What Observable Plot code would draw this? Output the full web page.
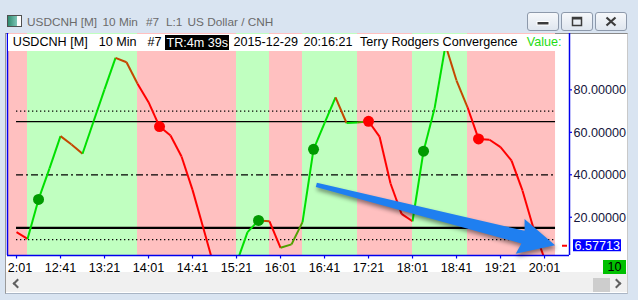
<!DOCTYPE html>
<html><head><meta charset="utf-8">
<script src="https://cdn.jsdelivr.net/npm/d3@7"></script>
<script src="https://cdn.jsdelivr.net/npm/@observablehq/plot@0.6"></script>
<style>
html,body{margin:0;padding:0;}
body{width:638px;height:300px;position:relative;overflow:hidden;background:#d9e4f1;font-family:"Liberation Sans",Arial,sans-serif;}
.abs{position:absolute;}
#frame{left:5px;top:33px;width:621px;height:259px;background:#fff;border-left:1px solid #9a9a9a;border-top:1px solid #8a8a8a;border-right:1px solid #c9c9c9;border-bottom:1px solid #a9b5c5;z-index:0;}
#scroll{left:6px;top:272px;width:621px;height:20px;background:#f0f0f0;z-index:0;}
#chart{left:0;top:0;z-index:1;}
#header{left:8px;top:34px;width:560px;height:17px;background:#fff;overflow:hidden;white-space:nowrap;font-size:12.6px;z-index:2;}
#header span{position:absolute;top:1px;line-height:15px;color:#000;}
#title span{position:absolute;top:15px;line-height:14px;font-size:11.8px;color:#6b6b6b;white-space:nowrap;}
.btn{top:12px;height:17px;width:30px;border:1px solid #8d99ab;border-radius:3px;background:linear-gradient(#f6f8fb,#dfe6ef);z-index:2;}
#cover{left:0;top:257px;width:5px;height:15px;background:#d9e4f1;border-right:1px solid #9a9a9a;z-index:3;}
#cover2{left:6px;top:257px;width:2px;height:15px;background:#fff;z-index:3;}
#bars{left:603px;top:260px;width:23px;height:14px;background:#00c000;color:#000;font-size:12.6px;line-height:14px;text-align:center;z-index:3;}
.chev{width:5px;height:5px;border-left:2px solid #606060;border-bottom:2px solid #606060;z-index:3;}
</style>
</head><body>
<div id="frame" class="abs"></div>
<div id="scroll" class="abs"></div>
<div class="abs" style="left:593px;top:278px;width:17px;height:14px;background:#cdcdcd;z-index:1"></div>
<div class="abs chev" style="left:14px;top:280px;transform:rotate(45deg)"></div>
<div class="abs chev" style="left:613px;top:280px;transform:rotate(-135deg)"></div>

<div id="title">
  <div class="abs" style="left:7px;top:15px;width:13px;height:10px;border:1px solid #505050;background:linear-gradient(90deg,#2e8a6e,#7fc6b8 70%,#fff 70%);"></div>
  <span style="left:27px">USDCNH [M]</span>
  <span style="left:102.5px">10 Min</span>
  <span style="left:146px">#7</span>
  <span style="left:166px">L:1</span>
  <span style="left:187.5px">US Dollar / CNH</span>
</div>
<div class="abs btn" style="left:527px"><svg width="30" height="17"><rect x="9" y="8.5" width="12" height="3.5" fill="#3c3c3c" stroke="#fff" stroke-width="1"/></svg></div>
<div class="abs btn" style="left:561px"><svg width="30" height="17"><rect x="10.5" y="4.5" width="9" height="8" fill="none" stroke="#3c3c3c" stroke-width="1.5"/><rect x="10.5" y="4.5" width="9" height="2" fill="#3c3c3c"/></svg></div>
<div class="abs btn" style="left:595px"><svg width="30" height="17"><path d="M10.5 4.5L19.5 12.5M19.5 4.5L10.5 12.5" stroke="#3c3c3c" stroke-width="2.2"/></svg></div>

<div id="chart" class="abs"></div>
<div id="header" class="abs">
  <span style="left:4.8px">USDCNH [M]</span>
  <span style="left:90.8px">10 Min</span>
  <span style="left:139.5px">#7</span>
  <span style="left:157px;top:0.7px;width:64px;height:15.3px;background:#000;color:#fff;padding-left:1.5px;box-sizing:border-box;line-height:16px">TR:4m 39s</span>
  <span style="left:225.5px">2015-12-29</span>
  <span style="left:295.5px">20:16:21</span>
  <span style="left:352px">Terry Rodgers Convergence</span>
  <span style="left:518.8px;color:#1fdc14">Value:</span>
</div>
<div id="cover" class="abs"></div>
<div id="cover2" class="abs"></div>
<div id="bars" class="abs">10</div>

<script>
// ---- data ----
const bandStart = [-1, 1, 11, 20, 23, 26, 31, 36, 41];
const bandEnd   = [1, 11, 20, 23, 26, 31, 36, 41, 49];
const bandZone  = ["down", "up", "down", "up", "down", "up", "down", "up", "down"];
// completed bars (index 0 = 12:01, one bar per 10 minutes)
const values = [13.0, 9.8, 28.4, 43.0, 58.2, 54.3, 49.9, 65.1, 80.2, 95.1,
                93.0, 82.9, 74.2, 62.7, 58.5, 48.6, 32.9, 14.6, -4, -6,
                -1.6, 13.0, 18.5, 18.1, 5.6, 7.2, 17.7, 52.0, 64.3, 76.5,
                64.4, 64.6, 65.2, 58.0, 35.9, 21.6, 18.1, 51.1, 71.2, 101,
                84.4, 71.8, 56.9, 56.5, 53.0, 46.7, 32.5, 14.7, 0.5];
const buySignals  = [2, 22, 27, 37];
const sellSignals = [13, 32, 42];
const levelValues = [70, 65, 40, 15, 9.5];
const levelStyles = ["dotted", "thin", "dashdot", "thick", "dotted"];
const xTickLabels = ["12:01","12:41","13:21","14:01","14:41","15:21","16:01","16:41","17:21","18:01","18:41","19:21","20:01"];
const yTickValues = [20, 40, 60, 80];
const lastValue = 6.57713;          // current (open) bar value
const arrowTail = [27.3, 35];
const arrowTip  = [49, 6.57713];

// ---- scales ----
const xDomain = [-0.82, 50.27], xRange = [7, 569];
const yDomain = [1.98, 106.55], yRange = [255, 33];
const kpp = (xDomain[1] - xDomain[0]) / (xRange[1] - xRange[0]);
const vpp = (yDomain[1] - yDomain[0]) / (yRange[0] - yRange[1]);

const zoneFill = {up: "#c0ffc0", down: "#ffc0c0"};
const bands = bandStart.map((s, i) => ({start: s, end: bandEnd[i], zone: bandZone[i]}));
const zoneAt = k => bands.find(b => k >= b.start && k < b.end)?.zone ?? "down";
const segs = d3.range(values.length - 1).map(i => {
  const zone = zoneAt(i + 0.5), rise = values[i + 1] >= values[i];
  const color = zone === "up" ? (rise ? "#00e000" : "#c44800") : (rise ? "#50a000" : "#ff0000");
  return {i, v0: values[i], v1: values[i + 1], color};
});
const styleMap = {
  dotted: {strokeWidth: 1.2, strokeDasharray: "1.3,2.7"},
  thin: {strokeWidth: 1.3},
  dashdot: {strokeWidth: 1.2, strokeDasharray: "7,3,2,3"},
  thick: {strokeWidth: 2.4}
};
const levelMarks = levelValues.map((v, i) =>
  Plot.ruleY([v], {x1: 0, x2: 49, stroke: "#000", ...styleMap[levelStyles[i]]}));
const xTickIdx = xTickLabels.map((_, i) => i * 4);

const chart = Plot.plot({
  width: 638, height: 300,
  marginLeft: 7, marginRight: 69, marginTop: 33, marginBottom: 45,
  x: {domain: xDomain, range: xRange, axis: null},
  y: {domain: yDomain, range: yRange, axis: null},
  color: {type: "identity"},
  style: {background: "transparent", fontFamily: '"Liberation Sans", Arial, sans-serif', fontSize: "12.6px", overflow: "visible"},
  marks: [
    Plot.rect(bands, {x1: "start", x2: "end", y1: yDomain[0], y2: yDomain[1], fill: d => zoneFill[d.zone], clip: true}),
    ...levelMarks,
    Plot.link(segs, {x1: "i", y1: "v0", x2: d => d.i + 1, y2: "v1", stroke: "color", strokeWidth: 2, clip: true}),
    Plot.dot(buySignals, {x: d => d, y: d => values[d], r: 5.5, fill: "#009a00", clip: true}),
    Plot.dot(sellSignals, {x: d => d, y: d => values[d], r: 5.5, fill: "#ff0000", clip: true}),
    Plot.ruleX([xDomain[0], xDomain[1]], {y1: yDomain[0], y2: yDomain[1], stroke: "#0000ee", strokeWidth: 1.5}),
    Plot.ruleY([yDomain[0]], {x1: xDomain[0], x2: xDomain[1], stroke: "#0000ee", strokeWidth: 1.5}),
    Plot.ruleX(xTickIdx, {x: d => d, y1: yDomain[0], y2: yDomain[0] - 3.5 * vpp, stroke: "#0000ee", strokeWidth: 1.2}),
    Plot.text(xTickIdx, {x: d => d, y: yDomain[0], dy: 12.2, text: (d, i) => xTickLabels[i], fill: "#000", fontSize: 12.6}),
    Plot.ruleY(yTickValues, {y: d => d, x1: xDomain[1], x2: xDomain[1] + 3 * kpp, stroke: "#0000ee", strokeWidth: 1.2}),
    Plot.text(yTickValues, {x: xDomain[1], y: d => d, dx: 4, dy: 0.5, text: d => d.toFixed(5), textAnchor: "start", fill: "#14143c", fontSize: 12.6}),
    Plot.ruleY([lastValue], {x1: xDomain[1] - 7 * kpp, x2: xDomain[1] - 2 * kpp, stroke: "#ff0000", strokeWidth: 2}),
    Plot.rect([lastValue], {x1: xDomain[1] + 4 * kpp, x2: xDomain[1] + 52 * kpp, y1: d => d - 6 * vpp, y2: d => d + 6 * vpp, fill: "#0000ff"}),
    Plot.text([lastValue], {x: xDomain[1], y: d => d, dx: 5, dy: 0.5, text: d => d.toFixed(5), textAnchor: "start", fill: "#fff", fontSize: 12.6})
  ]
});
document.getElementById("chart").appendChild(chart);

// annotation arrow, positioned through the plot's scales
const sx = chart.scale("x"), sy = chart.scale("y");
const fx = sx.apply ? v => sx.apply(v) : d3.scaleLinear(sx.domain, sx.range);
const fy = sy.apply ? v => sy.apply(v) : d3.scaleLinear(sy.domain, sy.range);
const T = [fx(arrowTail[0]), fy(arrowTail[1])], P = [fx(arrowTip[0]), fy(arrowTip[1])];
const ddx = P[0] - T[0], ddy = P[1] - T[1], L = Math.hypot(ddx, ddy);
const ux = ddx / L, uy = ddy / L, nx = -uy, ny = ux;
const pt = (a, o) => [T[0] + ux * a + nx * o, T[1] + uy * a + ny * o];
const head = 33;
const pts = [pt(0, -2.2), pt(L - head, -6.5), pt(L - head - 3, -18), pt(L, 0), pt(L - head - 3, 18), pt(L - head, 6.5), pt(0, 2.2)];
d3.select(chart).append("path")
  .attr("d", "M" + pts.map(p => p.join(",")).join("L") + "Z")
  .attr("fill", "#1f7ff0")
  .style("filter", "drop-shadow(1px 3px 2px rgba(0,0,0,0.45))");
</script>
</body></html>
